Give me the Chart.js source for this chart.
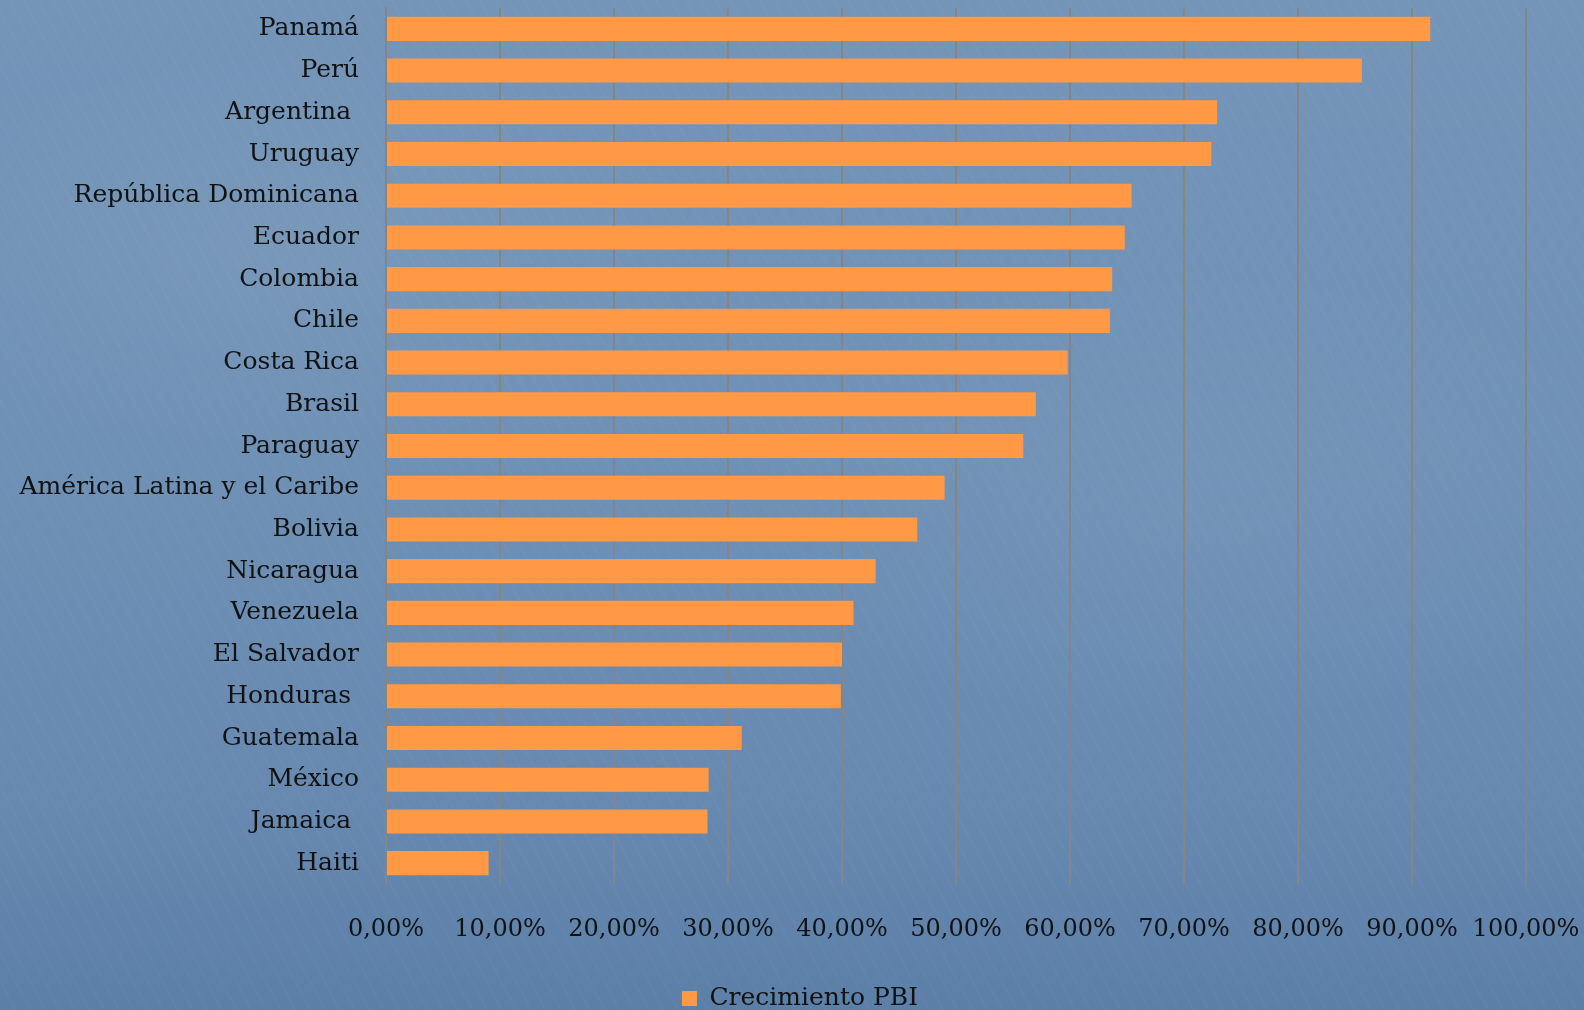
<!DOCTYPE html>
<html>
<head>
<meta charset="utf-8">
<script src="https://cdn.jsdelivr.net/npm/chart.js@4.4.1/dist/chart.umd.min.js"></script>
<style>
  html, body { margin: 0; padding: 0; overflow: hidden; }
  body {
    width: 1584px; height: 1010px;
    background:
      radial-gradient(ellipse 600px 300px at 300px 250px, rgba(255,255,255,0.05), rgba(255,255,255,0) 70%),
      radial-gradient(ellipse 700px 350px at 1200px 500px, rgba(255,255,255,0.04), rgba(255,255,255,0) 70%),
      repeating-linear-gradient(62deg, rgba(255,255,255,0.02) 0px, rgba(255,255,255,0.02) 2px, rgba(0,0,0,0) 2px, rgba(0,0,0,0) 13px),
      linear-gradient(180deg, #7495b8 0%, #6f91b5 45%, #6789b0 80%, #5c7fa8 100%);
  }
  #wrap { position: relative; width: 1584px; height: 1021px; }
</style>
</head>
<body>
<div id="wrap"><canvas id="pbiChart"></canvas></div>
<script>
// --- data ---
const countries = [
  'Panamá', 'Perú', 'Argentina ', 'Uruguay', 'República Dominicana', 'Ecuador',
  'Colombia', 'Chile', 'Costa Rica', 'Brasil', 'Paraguay', 'América Latina y el Caribe',
  'Bolivia', 'Nicaragua', 'Venezuela', 'El Salvador', 'Honduras ', 'Guatemala',
  'México', 'Jamaica ', 'Haiti'
];
const growth = [
  91.6, 85.6, 72.9, 72.4, 65.4, 64.8,
  63.7, 63.5, 59.8, 57.0, 55.9, 49.0,
  46.6, 42.95, 41.0, 40.0, 39.9, 31.2,
  28.3, 28.2, 9.0
];
const seriesName = 'Crecimiento PBI';
const tickStep = 10;
const axisMax = 100;

const FONT = '"DejaVu Serif", "Liberation Serif", serif';
const GRID = '#858585';

// the legend in the original sits a bit right of the plot's centre
const shiftLegend = {
    id: 'shiftLegend',
    afterLayout(chart) {
        if (chart.legend) {
            chart.legend.left += 37;
            chart.legend.right += 37;
        }
    }
};

const ctx = document.getElementById('pbiChart').getContext('2d');

new Chart(ctx, {
    type: 'bar',
    data: {
        labels: countries,
        datasets: [{
            label: seriesName,
            data: growth,
            backgroundColor: '#ff9946',
            borderWidth: 0,
            barPercentage: 0.577,
            categoryPercentage: 1.0
        }]
    },
    options: {
        indexAxis: 'y',
        responsive: true,
        maintainAspectRatio: false,
        animation: false,
        layout: { padding: { left: 0, right: 58, top: 8, bottom: 0 } },
        scales: {
            x: {
                min: 0,
                max: axisMax,
                ticks: {
                    stepSize: tickStep,
                    autoSkip: false,
                    color: '#111',
                    font: { family: FONT, size: 24 },
                    padding: 31,
                    maxRotation: 0,
                    callback: v => v.toFixed(2).replace('.', ',') + '%'
                },
                grid: { color: GRID, lineWidth: 2, drawTicks: false },
                border: { display: false },
                afterFit: scale => {
                    scale.height = 102;
                    scale.paddingLeft = 0;
                    scale.paddingRight = 0;
                }
            },
            y: {
                ticks: {
                    color: '#111',
                    font: { family: FONT, size: 25 },
                    padding: 27,
                    autoSkip: false
                },
                grid: { display: false, drawTicks: false },
                border: { display: true, color: GRID, width: 2 },
                afterFit: scale => {
                    scale.width = 386;
                    scale.paddingTop = 0;
                    scale.paddingBottom = 0;
                }
            }
        },
        plugins: {
            legend: {
                position: 'bottom',
                labels: {
                    color: '#111',
                    font: { family: FONT, size: 25 },
                    boxWidth: 15,
                    boxHeight: 15,
                    padding: 0
                }
            },
            tooltip: { enabled: false }
        }
    },
    plugins: [shiftLegend]
});
</script>
</body>
</html>
